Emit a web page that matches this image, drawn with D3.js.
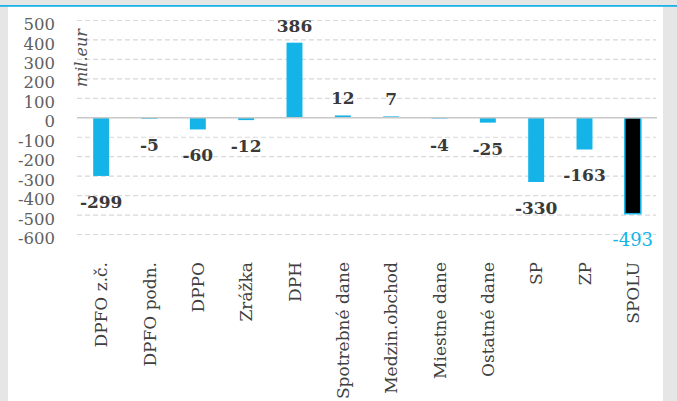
<!DOCTYPE html>
<html>
<head>
<meta charset="utf-8">
<script src="https://cdn.jsdelivr.net/npm/d3@7"></script>
<style>
  html, body { margin: 0; padding: 0; background: #e6e6e6; }
  svg { display: block; }
</style>
</head>
<body>
<svg id="chart" width="677" height="401"></svg>
<script>
const categories = ["DPFO z.č.", "DPFO podn.", "DPPO", "Zrážka", "DPH", "Spotrebné dane", "Medzin.obchod", "Miestne dane", "Ostatné dane", "SP", "ZP", "SPOLU"];
const values = [-299, -5, -60, -12, 386, 12, 7, -4, -25, -330, -163, -493];
const yTicks = [500, 400, 300, 200, 100, 0, -100, -200, -300, -400, -500, -600];
const yTitle = "mil.eur";
const totalCategory = "SPOLU";

const W = 677, H = 401;
const blue = "#14b4e8";
const svg = d3.select("#chart");

// frame
svg.append("rect").attr("x", 0).attr("y", 0).attr("width", W).attr("height", H).attr("fill", "#e6e6e6");
svg.append("rect").attr("x", 8).attr("y", 6).attr("width", 655).attr("height", H - 6).attr("fill", "#ffffff");
svg.append("rect").attr("x", 0).attr("y", 5).attr("width", W).attr("height", 1.8).attr("fill", "#1fb2e6");

const x = d3.scaleBand().domain(categories).range([77, 657]).paddingInner(0.67).paddingOuter(0.335);
const y = d3.scaleLinear().domain([-600, 500]).range([234.5, 20.5]);

// gridlines
svg.append("g").selectAll("line").data(yTicks.filter(t => t !== 0)).join("line")
  .attr("x1", 77).attr("x2", 656)
  .attr("y1", d => y(d)).attr("y2", d => y(d))
  .attr("stroke", "#d9d9d9").attr("stroke-width", 1.2).attr("stroke-dasharray", "5,3");

// y axis labels
const yAxis = d3.axisLeft(y).tickValues(yTicks).tickSize(0).tickPadding(0).tickFormat(d => d3.format("d")(d).replace("−", "-"));
const gy = svg.append("g").attr("transform", "translate(55,0)").call(yAxis);
gy.select(".domain").remove();
gy.selectAll("text")
  .attr("font-family", "DejaVu Serif").attr("font-size", 16.5).attr("fill", "#606060")
  .attr("dy", "0.55em");

// y title
svg.append("text")
  .attr("transform", `translate(87,29) rotate(-90)`)
  .attr("text-anchor", "end")
  .attr("font-family", "DejaVu Serif").attr("font-style", "italic").attr("font-size", 16)
  .attr("fill", "#505050")
  .text(yTitle);

// bars
svg.append("g").selectAll("rect").data(categories).join("rect")
  .attr("x", d => x(d))
  .attr("width", x.bandwidth())
  .attr("y", (d, i) => y(Math.max(0, values[i])))
  .attr("height", (d, i) => Math.abs(y(values[i]) - y(0)))
  .attr("fill", d => d === totalCategory ? "#000000" : blue)
  .attr("stroke", d => d === totalCategory ? blue : "none")
  .attr("stroke-width", 1.5);

// zero line
svg.append("line").attr("x1", 77).attr("x2", 657).attr("y1", y(0)).attr("y2", y(0))
  .attr("stroke", "#c8c8c8").attr("stroke-width", 1.3);

// value labels
svg.append("g").selectAll("text").data(categories).join("text")
  .attr("x", d => x(d) + x.bandwidth() / 2)
  .attr("y", (d, i) => values[i] >= 0 ? y(values[i]) - 17 : y(values[i]) + 26)
  .attr("dy", "0.35em")
  .attr("text-anchor", "middle")
  .attr("font-family", "DejaVu Serif")
  .attr("font-weight", d => d === totalCategory ? "normal" : "bold")
  .attr("font-size", d => d === totalCategory ? 18 : 17)
  .attr("fill", d => d === totalCategory ? blue : "#3a3a3a")
  .text((d, i) => d3.format("d")(values[i]).replace("−", "-"));

// category labels
svg.append("g").selectAll("text").data(categories).join("text")
  .attr("transform", d => `translate(${x(d) + x.bandwidth() / 2},262) rotate(-90)`)
  .attr("text-anchor", "end")
  .attr("dy", "0.36em")
  .attr("font-family", "DejaVu Serif").attr("font-size", 17)
  .attr("fill", "#404040")
  .text(d => d);
</script>
</body>
</html>
